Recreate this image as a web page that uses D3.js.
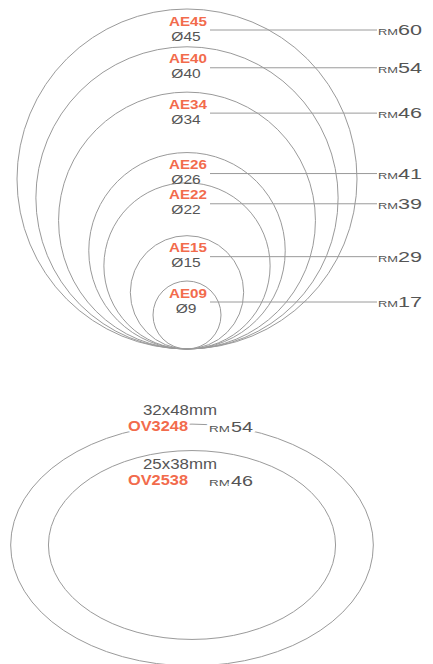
<!DOCTYPE html>
<html>
<head>
<meta charset="utf-8">
<script src="https://cdn.jsdelivr.net/npm/d3@7"></script>
<style>
  body { margin: 0; background: #fff; }
  text { font-family: "Liberation Sans", Arial, sans-serif; }
</style>
</head>
<body>
<div id="chart"></div>
<script>
// round sizes (diameter in mm) and price
var codes = ["AE45", "AE40", "AE34", "AE26", "AE22", "AE15", "AE09"];
var diameters = [45, 40, 34, 26, 22, 15, 9];
var prices = [60, 54, 46, 41, 39, 29, 17];

// oval sizes (height x width in mm) and price
var ovalCodes = ["OV3248", "OV2538"];
var ovalHeights = [32, 25];
var ovalWidths = [48, 38];
var ovalPrices = [54, 46];

var svgWidth = 433;
var svgHeight = 664;

var orange = "#f26b4c";
var grey = "#555555";
var lineGrey = "#9a9a9a";

var svg = d3.select("#chart")
  .append("svg")
  .attr("width", svgWidth)
  .attr("height", svgHeight);

// mm -> px, same scale for circles and ovals
var size = d3.scaleLinear()
  .domain([0, 45])
  .range([0, 340]);

var cx = 187;
var baseY = 349;

var rounds = codes.map(function(c, i) {
  return { code: c, d: diameters[i], price: prices[i] };
});

// circles, all touching at the bottom
svg.append("g").selectAll("circle")
  .data(rounds)
  .enter()
  .append("circle")
  .attr("cx", cx)
  .attr("cy", d => baseY - size(d.d) / 2)
  .attr("r", d => size(d.d) / 2)
  .attr("fill", "none")
  .attr("stroke", lineGrey)
  .attr("stroke-width", 1);

var labels = svg.append("g").selectAll("g")
  .data(rounds)
  .enter()
  .append("g")
  .attr("transform", d => `translate(0, ${baseY - size(d.d)})`);

// leader lines
labels.append("line")
  .attr("x1", 210)
  .attr("x2", 377)
  .attr("y1", 21)
  .attr("y2", 21)
  .attr("stroke", lineGrey)
  .attr("stroke-width", 1);

labels.append("text")
  .attr("x", cx + 1)
  .attr("y", 16.5)
  .attr("text-anchor", "middle")
  .attr("font-size", "13.5px")
  .attr("font-weight", "bold")
  .attr("fill", orange)
  .attr("textLength", 38)
  .attr("lengthAdjust", "spacingAndGlyphs")
  .text(d => d.code);

// diameter text, stretched a little to the width of the original
labels.append("text")
  .attr("x", cx - 1)
  .attr("y", 31.6)
  .attr("text-anchor", "middle")
  .attr("font-size", "13.5px")
  .attr("fill", grey)
  .text(d => "\u00d8" + d.d)
  .each(function() {
    var w = this.getComputedTextLength();
    d3.select(this)
      .attr("textLength", w * 1.15)
      .attr("lengthAdjust", "spacingAndGlyphs");
  });

labels.append("text")
  .attr("x", 378)
  .attr("y", 26)
  .attr("font-size", "9px")
  .attr("fill", grey)
  .attr("textLength", 20)
  .attr("lengthAdjust", "spacingAndGlyphs")
  .text("RM");

labels.append("text")
  .attr("x", 398)
  .attr("y", 26)
  .attr("font-size", "15.5px")
  .attr("fill", grey)
  .attr("textLength", 24)
  .attr("lengthAdjust", "spacingAndGlyphs")
  .text(d => d.price);

// ovals
var ovals = ovalCodes.map(function(c, i) {
  return { code: c, h: ovalHeights[i], w: ovalWidths[i], price: ovalPrices[i] };
});

var ocx = 192;
var ocy = 545;

svg.append("g").selectAll("ellipse")
  .data(ovals)
  .enter()
  .append("ellipse")
  .attr("cx", ocx)
  .attr("cy", ocy)
  .attr("rx", d => size(d.w) / 2)
  .attr("ry", d => size(d.h) / 2)
  .attr("fill", "none")
  .attr("stroke", lineGrey)
  .attr("stroke-width", 1);

// outer label sits on the rim, inner label just inside its rim
var ovalLabels = svg.append("g").selectAll("g")
  .data(ovals)
  .enter()
  .append("g")
  .attr("transform", (d, i) => `translate(0, ${ocy - size(d.h) / 2 + (i === 0 ? 7 : 34)})`);

ovalLabels.append("text")
  .attr("x", ocx - 12)
  .attr("y", -16)
  .attr("text-anchor", "middle")
  .attr("font-size", "15px")
  .attr("fill", grey)
  .attr("textLength", 74)
  .attr("lengthAdjust", "spacingAndGlyphs")
  .text(d => d.h + "x" + d.w + "mm");

ovalLabels.append("text")
  .attr("x", ocx - 4)
  .attr("y", 0)
  .attr("text-anchor", "end")
  .attr("font-size", "14px")
  .attr("font-weight", "bold")
  .attr("fill", orange)
  .attr("stroke", "#fff")
  .attr("stroke-width", 4)
  .attr("paint-order", "stroke")
  .attr("textLength", 60)
  .attr("lengthAdjust", "spacingAndGlyphs")
  .text(d => d.code);

ovalLabels.append("text")
  .attr("x", ocx + 17)
  .attr("y", 1)
  .attr("font-size", "9px")
  .attr("fill", grey)
  .attr("stroke", "#fff")
  .attr("stroke-width", 4)
  .attr("paint-order", "stroke")
  .attr("textLength", 21)
  .attr("lengthAdjust", "spacingAndGlyphs")
  .text("RM");

ovalLabels.append("text")
  .attr("x", ocx + 39)
  .attr("y", 1)
  .attr("font-size", "14.5px")
  .attr("fill", grey)
  .attr("stroke", "#fff")
  .attr("stroke-width", 4)
  .attr("paint-order", "stroke")
  .attr("textLength", 22)
  .attr("lengthAdjust", "spacingAndGlyphs")
  .text(d => d.price);
</script>
</body>
</html>
